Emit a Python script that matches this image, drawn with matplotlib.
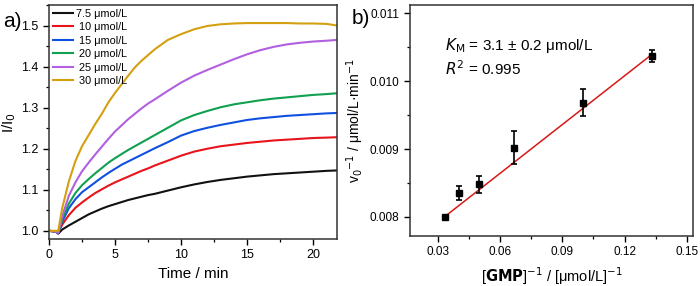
import matplotlib
matplotlib.use("Agg")
import matplotlib.pyplot as plt
from matplotlib.ticker import MultipleLocator
import numpy as np

plt.rcParams['font.family'] = ['Liberation Sans', 'DejaVu Sans']

# ---- panel a data ----
time_min = [0, 0.5, 0.7, 1, 1.5, 2, 2.5, 3, 3.5, 4, 4.5, 5, 5.5, 6, 6.5, 7, 7.5, 8,
            9, 10, 11, 12, 13, 14, 15, 16, 17, 18, 19, 20, 21, 21.8]
labels_a = ['7.5 μmol/L', ' 10 μmol/L', ' 15 μmol/L', ' 20 μmol/L', ' 25 μmol/L', ' 30 μmol/L']
c75 = [1.0, 0.998, 0.993, 1.003, 1.013, 1.022, 1.031, 1.040, 1.047, 1.054, 1.060, 1.065,
       1.070, 1.075, 1.079, 1.083, 1.087, 1.090, 1.098, 1.106, 1.113, 1.119, 1.124, 1.128,
       1.132, 1.135, 1.138, 1.140, 1.142, 1.144, 1.146, 1.147]
c10 = [1.0, 0.998, 0.995, 1.015, 1.038, 1.056, 1.069, 1.081, 1.092, 1.101, 1.110, 1.118,
       1.125, 1.132, 1.139, 1.146, 1.152, 1.159, 1.171, 1.183, 1.193, 1.200, 1.206, 1.210,
       1.214, 1.217, 1.220, 1.222, 1.224, 1.226, 1.227, 1.228]
c15 = [1.0, 0.998, 0.995, 1.022, 1.055, 1.077, 1.094, 1.106, 1.118, 1.130, 1.141, 1.151,
       1.161, 1.169, 1.177, 1.185, 1.193, 1.201, 1.216, 1.232, 1.243, 1.251, 1.258, 1.264,
       1.270, 1.274, 1.277, 1.280, 1.282, 1.284, 1.286, 1.287]
c20 = [1.0, 0.998, 0.995, 1.028, 1.066, 1.092, 1.111, 1.126, 1.140, 1.153, 1.166, 1.177,
       1.187, 1.197, 1.206, 1.215, 1.224, 1.233, 1.251, 1.269, 1.282, 1.292, 1.301, 1.308,
       1.313, 1.318, 1.322, 1.325, 1.328, 1.331, 1.333, 1.335]
c25 = [1.0, 0.998, 0.995, 1.035, 1.085, 1.118, 1.145, 1.166, 1.186, 1.205, 1.224, 1.242,
       1.257, 1.272, 1.285, 1.298, 1.310, 1.320, 1.341, 1.361, 1.378, 1.392, 1.405, 1.418,
       1.430, 1.440, 1.448, 1.454, 1.458, 1.461, 1.463, 1.465]
c30 = [1.0, 1.0, 1.0, 1.055, 1.120, 1.170, 1.206, 1.233, 1.260, 1.285, 1.313, 1.336,
       1.357, 1.378, 1.398, 1.414, 1.428, 1.442, 1.465, 1.479, 1.491, 1.499, 1.503, 1.505,
       1.506, 1.506, 1.506, 1.506, 1.505, 1.505, 1.504, 1.500]
series_a = [c75, c10, c15, c20, c25, c30]
colors_a = ['#111111', '#e8141c', '#1050e0', '#10a050', '#b060e0', '#d4a010']

# ---- panel b data ----
inv_gmp = [1/30, 1/25, 1/20, 1/15, 1/10, 1/7.5]
inv_v0 = [0.00800, 0.00835, 0.00848, 0.00902, 0.00968, 0.01037]
inv_v0_err = [0.00002, 0.00010, 0.00013, 0.00024, 0.00020, 0.00009]
fit_slope = 0.0239
fit_intercept = 0.00721

fig = plt.figure(figsize=(7.0, 2.86), dpi=100)
ax1 = fig.add_axes([0.07, 0.1643, 0.4114, 0.8182])
ax2 = fig.add_axes([0.5857, 0.1748, 0.4043, 0.8077])

for y, c, lab in zip(series_a, colors_a, labels_a):
    ax1.plot(time_min, y, color=c, lw=1.5, label=lab)
ax1.set_xlim(0, 21.8)
ax1.set_ylim(0.98, 1.55)
ax1.xaxis.set_major_locator(MultipleLocator(5))
ax1.xaxis.set_minor_locator(MultipleLocator(2.5))
ax1.yaxis.set_major_locator(MultipleLocator(0.1))
ax1.yaxis.set_minor_locator(MultipleLocator(0.05))
ax1.set_xlabel('Time / min', fontsize=11, labelpad=4)
ax1.set_ylabel('I/I$_0$', fontsize=11, labelpad=2)
leg = ax1.legend(loc='upper left', frameon=False, fontsize=7.8, handlelength=1.85,
                 handletextpad=0.25, labelspacing=0.32, borderaxespad=0.2,
                 borderpad=0.15)

ax2.errorbar(inv_gmp, inv_v0, yerr=inv_v0_err, fmt='s', color='black', ms=4,
             capsize=2.5, elinewidth=1.2, capthick=1.2, zorder=3)
xf = np.array([min(inv_gmp), max(inv_gmp)])
ax2.plot(xf, fit_intercept + fit_slope * xf, color='#d81818', lw=1.1, zorder=2)
ax2.set_xlim(0.0165, 0.153)
ax2.set_ylim(0.00772, 0.01112)
ax2.xaxis.set_major_locator(MultipleLocator(0.03))
ax2.xaxis.set_minor_locator(MultipleLocator(0.015))
ax2.yaxis.set_major_locator(MultipleLocator(0.001))
ax2.yaxis.set_minor_locator(MultipleLocator(0.0005))
ax2.xaxis.set_major_formatter(plt.FuncFormatter(lambda v, p: f'{v:.2f}'))
ax2.yaxis.set_major_formatter(plt.FuncFormatter(lambda v, p: f'{v:.3f}'))
ax2.set_xlabel(r'[$\mathbf{GMP}$]$^{-1}$ / [μmol/L]$^{-1}$', fontsize=10.5, labelpad=5)
ax2.set_ylabel(r'v$_0$$^{-1}$ / μmol/L·min$^{-1}$', fontsize=10, labelpad=3)
ax2.text(0.0334, 0.010517, r'$K_\mathrm{M}$ = 3.1 ± 0.2 μmol/L', fontsize=11, va='center')
ax2.text(0.0334, 0.010178, r'$R^2$ = 0.995', fontsize=11, va='center')

for ax in (ax1, ax2):
    for s in ax.spines.values():
        s.set_linewidth(1.1)
        s.set_color('#333333')
    ax.tick_params(which='major', direction='out', length=4, width=1, labelsize=9)
    ax.tick_params(which='minor', direction='out', length=2.5, width=0.9)
ax2.tick_params(which='major', labelsize=8.5)

fig.text(0.005, 0.905, 'a)', fontsize=15)
fig.text(0.502, 0.915, 'b)', fontsize=15)

fig.savefig('out.png', dpi=100)
